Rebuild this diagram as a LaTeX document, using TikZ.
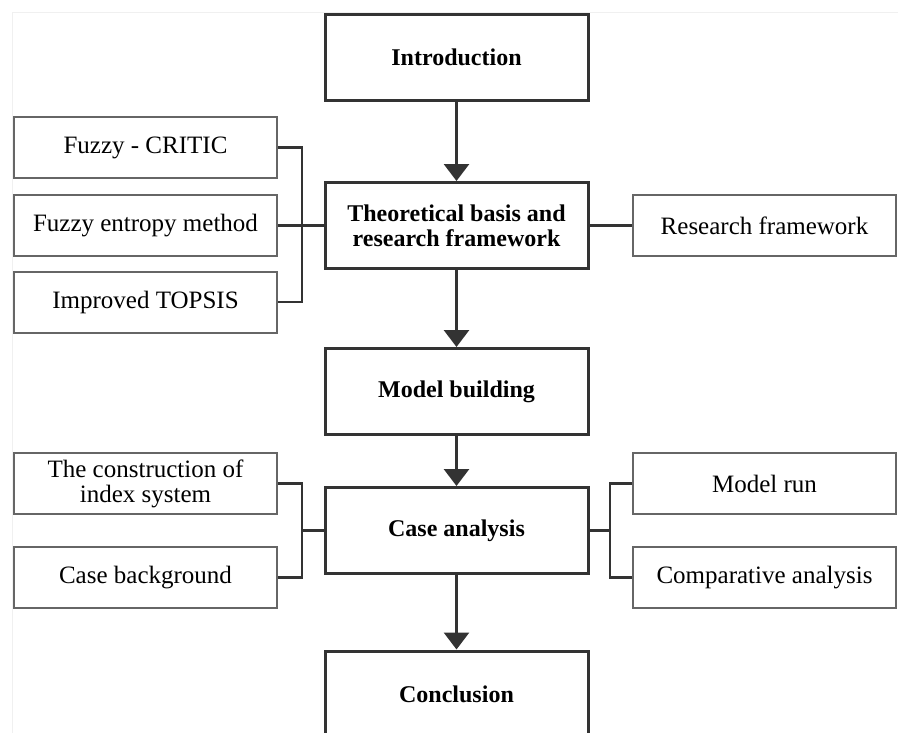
\documentclass[tikz,border=0pt]{standalone}
\usepackage{fontspec}
\setmainfont{Liberation Serif}
\usetikzlibrary{arrows.meta}
\begin{document}
\begin{tikzpicture}[x=1pt,y=-1pt,
  mainbox/.style={draw=black!80,line width=3pt,minimum width=263pt,minimum height=86pt,
    inner sep=0pt,align=center,font=\fontsize{24}{25}\selectfont\bfseries},
  sidebox/.style={draw=black!60,line width=2pt,minimum width=263pt,minimum height=61pt,
    inner sep=0pt,align=center,font=\fontsize{25}{25}\selectfont},
  link/.style={draw=black!80,line width=2.6pt},
  flow/.style={draw=black!80,line width=3pt,-{Triangle[width=25pt,length=17pt]}}]
\useasboundingbox (0,0) rectangle (898,732);
\clip (0,0) rectangle (898,732);
\draw[black!6,line width=1pt] (12,744) |- (910,12);

% main flow
\node[mainbox] (intro) at (456.5,57) {Introduction};
\node[mainbox] (theory) at (456.5,225.5) {Theoretical basis and\\research framework};
\node[mainbox] (model) at (456.5,391.5) {Model building};
\node[mainbox] (case) at (456.5,530.5) {Case analysis};
\node[mainbox] (concl) at (456.5,694) {Conclusion};

\draw[flow] (intro) -- (theory);
\draw[flow] (theory) -- (model);
\draw[flow] (model) -- (case);
\draw[flow] (case) -- (concl);

% left side
\node[sidebox] (critic) at (145.5,147.5) {Fuzzy - CRITIC};
\node[sidebox] (entropy) at (145.5,225.5) {Fuzzy entropy method};
\node[sidebox] (topsis) at (145.5,302) {Improved TOPSIS};
\node[sidebox] (index) at (145.5,483.5) {The construction of\\index system};
\node[sidebox] (background) at (145.5,577.5) {Case background};

% right side
\node[sidebox] (frame) at (764.5,225.5) {Research framework};
\node[sidebox] (run) at (764.5,483.5) {Model run};
\node[sidebox] (compare) at (764.5,577.5) {Comparative analysis};

\coordinate (lt) at (302,225.5);
\coordinate (lc) at (302,530.5);
\coordinate (rc) at (610,530.5);

\draw[link] (critic.east) -| (lt) |- (topsis.east);
\draw[link] (entropy.east) -- (theory.west);
\draw[link] (theory.east) -- (frame.west);

\draw[link] (index.east) -| (lc) |- (background.east);
\draw[link] (lc) -- (case.west);
\draw[link] (run.west) -| (rc) |- (compare.west);
\draw[link] (rc) -- (case.east);
\end{tikzpicture}
\end{document}
